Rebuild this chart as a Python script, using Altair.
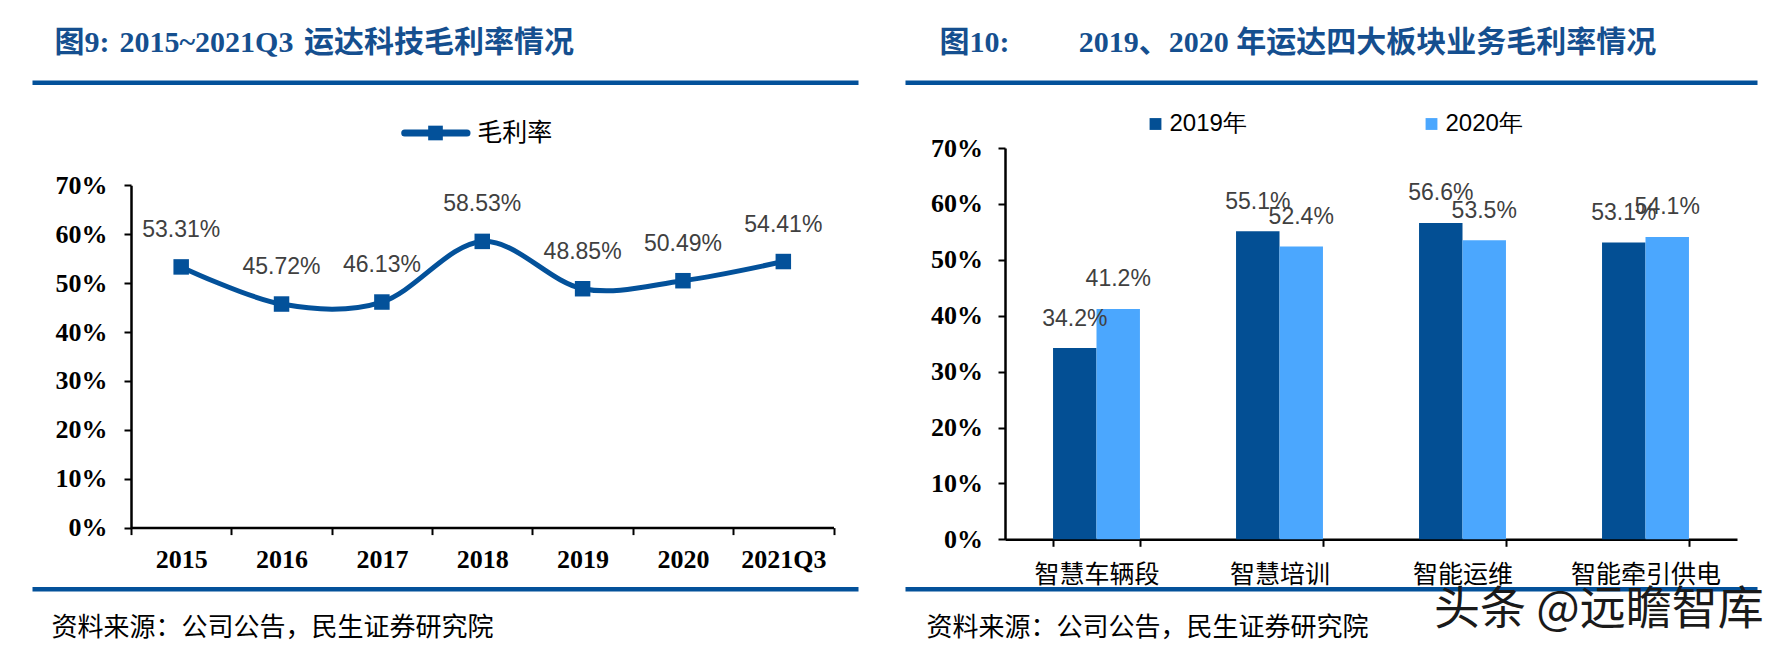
import altair as alt
import pandas as pd

# ---------------- data ----------------
years = ["2015", "2016", "2017", "2018", "2019", "2020", "2021Q3"]
gross_margin = [53.31, 45.72, 46.13, 58.53, 48.85, 50.49, 54.41]
line_series = ["毛利率"]

segments = ["智慧车辆段", "智慧培训", "智能运维", "智能牵引供电"]
bar_series = ["2019年", "2020年"]
margin_2019 = [34.2, 55.1, 56.6, 53.1]
margin_2020 = [41.2, 52.4, 53.5, 54.1]

y_ticks = [0, 10, 20, 30, 40, 50, 60, 70]

title_left = ["图9:", "2015~2021Q3", "运达科技毛利率情况"]
title_right = ["图10:", "2019、2020 年运达四大板块业务毛利率情况"]
source_text = "资料来源：公司公告，民生证券研究院"
watermark = "头条 @远瞻智库"

# ---------------- style ----------------
SERIF = "Liberation Serif"
SANS = "Liberation Sans"
CJK = "Noto Sans CJK SC"
TITLE_FONT = "Liberation Serif, Noto Sans CJK SC"
BLUE = "#03519A"
TITLE_BLUE = "#154F8F"
DARK = "#034F94"
LIGHT = "#4BA7FE"
LBL = "#404040"

W1, H1 = 702.5, 379.6
W2, H2 = 732, 391.3

one = pd.DataFrame({"k": [0]})


def hrule(x1, x2, y, w, color, **kw):
    return alt.Chart(one).mark_rule(color=color, strokeWidth=w, **kw).encode(
        x=alt.value(x1), x2=alt.value(x2), y=alt.value(y))


def label(txt, x, y, size, font, color, weight="normal", align="left"):
    return alt.Chart(pd.DataFrame({"t": [txt]})).mark_text(
        align=align, baseline="middle", fontSize=size, font=font,
        color=color, fontWeight=weight).encode(
        text="t:N", x=alt.value(x), y=alt.value(y))


def y_axis(pad):
    return alt.Axis(title=None, values=y_ticks, labelExpr="datum.value + '%'",
                    labelFont=SERIF, labelFontWeight="bold", labelFontSize=26,
                    labelColor="#000", labelPadding=pad, tickSize=7, tickWidth=2,
                    tickColor="#000", domainColor="#000", domainWidth=2.5,
                    grid=False)


# ---------------- left chart ----------------
line_df = pd.DataFrame({"year": years, "v": gross_margin})

x1 = alt.X("year:N", sort=None,
           scale=alt.Scale(type="band", paddingInner=0, paddingOuter=0),
           axis=alt.Axis(title=None, labelAngle=0, labelFont=SERIF,
                         labelFontWeight="bold", labelFontSize=26,
                         labelColor="#000", labelPadding=12, tickBand="extent",
                         tickSize=7, tickWidth=2, tickColor="#000",
                         domainColor="#000", domainWidth=2.5, labelOverlap=False))
y1 = alt.Y("v:Q", scale=alt.Scale(domain=[0, 70], range=[H1, 37.3], nice=False),
           axis=y_axis(17))

base1 = alt.Chart(line_df).encode(x=x1, y=y1)
line = base1.mark_line(interpolate="cardinal", strokeWidth=5, color=BLUE)
pts = base1.mark_point(shape="square", filled=True, size=240, opacity=1, color=BLUE)
lbl1 = base1.transform_calculate(lbl="format(datum.v, '.2f') + '%'").mark_text(
    dy=-37, baseline="middle", fontSize=23, font=SANS, color=LBL).encode(text="lbl:N")

leg_df = pd.DataFrame({"s": line_series})
leg_line = alt.Chart(leg_df).mark_rule(color=BLUE, strokeWidth=7, strokeCap="round").encode(
    x=alt.value(273.7), x2=alt.value(336), y=alt.value(-15))
leg_pt = alt.Chart(leg_df).mark_point(shape="square", filled=True, size=215, opacity=1,
                                      color=BLUE).encode(x=alt.value(304.5), y=alt.value(-15))
leg_txt = alt.Chart(leg_df).mark_text(align="left", baseline="middle", fontSize=25,
                                      font=CJK, color="#000").encode(
    text="s:N", x=alt.value(346.2), y=alt.value(-15))

left = alt.layer(
    hrule(-122, -121, -139.2, 1, "#ffffff"),
    hrule(-98.5, 727.5, -65.2, 4.5, BLUE),
    label(title_left[0], -76.5, -104.7, 30, TITLE_FONT, TITLE_BLUE, weight="bold"),
    label(title_left[1], -11.5, -104.7, 30, TITLE_FONT, TITLE_BLUE, weight="bold"),
    label(title_left[2], 173.1, -104.7, 30, TITLE_FONT, TITLE_BLUE, weight="bold"),
    leg_line, leg_pt, leg_txt,
    line, pts, lbl1,
    hrule(-98.5, 727.5, 441.3, 4.5, BLUE),
    label(source_text, -79.5, 480.3, 26, CJK, "#000"),
).properties(width=W1, height=H1)

# ---------------- right chart ----------------
bar_df = pd.DataFrame({
    "seg": segments + segments,
    "yr": [bar_series[0]] * len(segments) + [bar_series[1]] * len(segments),
    "v": margin_2019 + margin_2020,
})

x2 = alt.X("seg:N", sort=segments,
           scale=alt.Scale(paddingInner=0.525, paddingOuter=0.2625),
           axis=alt.Axis(title=None, labelAngle=0, labelFont=CJK, labelFontSize=25,
                         labelColor="#000", labelPadding=16, tickBand="extent",
                         tickSize=7, tickWidth=2, tickColor="#000",
                         domainColor="#000", domainWidth=2.5, labelOverlap=False))
xo = alt.XOffset("yr:N", sort=bar_series, scale=alt.Scale(paddingInner=0, paddingOuter=0))
y2 = alt.Y("v:Q", scale=alt.Scale(domain=[0, 70], nice=False), axis=y_axis(15.5))
col = alt.Color("yr:N", sort=bar_series,
                scale=alt.Scale(domain=bar_series, range=[DARK, LIGHT]),
                legend=alt.Legend(orient="none", legendX=138.5, legendY=-36,
                                  direction="horizontal", title=None,
                                  symbolType="square", symbolSize=140,
                                  symbolStrokeWidth=0, labelFontSize=24,
                                  labelFont=SANS, labelColor="#000",
                                  columnPadding=172, labelOffset=2))

base2 = alt.Chart(bar_df).encode(x=x2, xOffset=xo, y=y2)
bars = base2.mark_bar().encode(color=col)
lbl2 = base2.transform_calculate(lbl="format(datum.v, '.1f') + '%'").mark_text(
    dy=-29.5, baseline="middle", fontSize=23, font=SANS, color=LBL).encode(text="lbl:N")

right = alt.layer(
    hrule(0, 1, -139.2, 1, "#ffffff"),
    hrule(-99.5, 752.5, -65.2, 4.5, BLUE),
    label(title_right[0], -65.5, -104.7, 30, TITLE_FONT, TITLE_BLUE, weight="bold"),
    label(title_right[1], 73.8, -104.7, 30, TITLE_FONT, TITLE_BLUE, weight="bold"),
    bars, lbl2,
    hrule(-99.5, 752.5, 441.3, 4.5, BLUE),
    label(source_text, -78.5, 480.3, 26, CJK, "#000"),
    label(watermark, 429, 462.3, 46, CJK, "#1a1a1a"),
).properties(width=W2, height=H2)

chart = alt.hconcat(left, right, spacing=42).resolve_scale(
    color="independent"
).resolve_legend(
    color="independent"
).properties(
    padding={"left": 0, "top": 0, "right": 0, "bottom": 0}
).configure_view(strokeWidth=0)

chart.save("out.html", embed_options={"renderer": "svg", "actions": False})
